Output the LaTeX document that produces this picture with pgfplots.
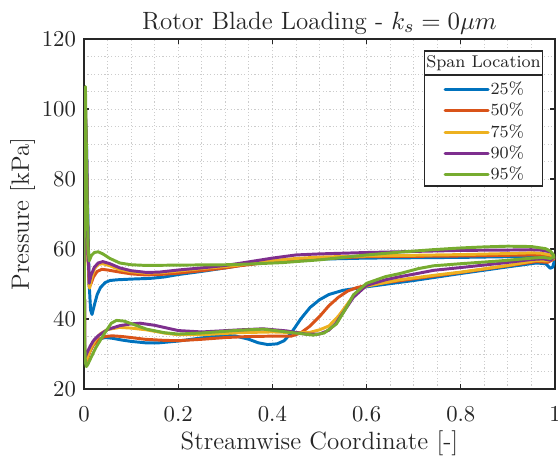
\documentclass[border=0pt]{standalone}
\usepackage{pgfplots}
\pgfplotsset{compat=1.18}
\definecolor{mB}{rgb}{0,0.447,0.741}
\definecolor{mO}{rgb}{0.850,0.325,0.098}
\definecolor{mY}{rgb}{0.929,0.694,0.125}
\definecolor{mP}{rgb}{0.494,0.184,0.556}
\definecolor{mG}{rgb}{0.466,0.674,0.188}
\definecolor{axgray}{gray}{0.15}
\begin{document}
\begin{tikzpicture}
\begin{axis}[
  name=ax,
  scale only axis,
  width=207.24pt, height=154pt,
  xmin=0, xmax=1, ymin=20, ymax=120,
  xtick={0,0.2,0.4,0.6,0.8,1},
  xticklabels={0,0.2,0.4,0.6,0.8,1},
  ytick={20,40,60,80,100,120},
  minor x tick num=3, minor y tick num=3,
  grid=both,
  major grid style={black!20, line width=0.4pt, dash pattern=on 0.5pt off 1pt},
  minor grid style={black!20, line width=0.4pt, dash pattern=on 0.5pt off 1pt},
  tick align=inside, tick pos=both,
  major tick length=2.2pt, minor tick length=0pt,
  axis line style={axgray, line width=0.5pt},
  every tick/.style={axgray, line width=0.5pt},
  every tick label/.append style={font=\fontsize{10}{12}\selectfont, text=axgray},
  xticklabel style={yshift=-4.2pt},
  title={Rotor Blade Loading - $k_s = 0\mu m$},
  title style={at={(axis description cs:0.5,1)}, anchor=base, yshift=-1.7pt, font=\fontsize{11}{13}\selectfont, text=axgray},
  xlabel={Streamwise Coordinate [-]},
  xlabel style={at={(axis description cs:0.5,0)}, anchor=base, yshift=-26.6pt, font=\fontsize{11}{13}\selectfont, text=axgray},
  ylabel={Pressure [kPa]},
  ylabel style={at={(axis description cs:0,0.5)}, anchor=base, yshift=24.3pt, font=\fontsize{11}{13}\selectfont, text=axgray},
  every axis plot/.append style={line width=1.3pt, line join=round, line cap=round},
  legend style={at={(axis description cs:0.7626,0.8817)}, anchor=north west, draw=none, fill=none,
    inner sep=0pt, row sep=1.55pt, column sep=0pt,
    font=\fontsize{7.5}{8.5}\selectfont, text=axgray,
    nodes={inner sep=0.5pt, text height=5.6pt, text depth=1.2pt}},
  legend cell align=left,
  legend image code/.code={\draw[#1] (0pt,0pt) -- (18.9pt,0pt);},
]
% 25%
\addplot[mB] coordinates {
(1.000,57.2) (0.99,57.5) (0.97,57.7) (0.95,57.8) (0.90,57.8) (0.80,57.6) (0.70,57.5) (0.60,57.4) (0.50,57.1) (0.45,56.8) (0.40,56.3) (0.35,55.7) (0.30,54.6) (0.25,53.6) (0.20,52.7) (0.17,52.0) (0.14,51.6) (0.10,51.4) (0.07,51.2) (0.055,51.0) (0.045,50.4) (0.035,49.0) (0.028,47.0) (0.022,44.0) (0.017,41.3) (0.014,42.5) (0.011,50) (0.008,70) (0.005,92) (0.003,98) (0.0015,80) (0.001,50) (0.0015,30)
(0.003,29.0) (0.006,29.6) (0.01,30.8) (0.015,32.0) (0.02,33.0) (0.03,34.2) (0.045,34.7) (0.06,34.5) (0.08,34.0) (0.10,33.6) (0.13,33.2) (0.16,33.2) (0.20,33.7) (0.25,34.6) (0.29,35.3) (0.32,35.2) (0.35,34.2) (0.37,33.2) (0.39,32.7) (0.41,32.9) (0.425,33.8) (0.44,36.0) (0.46,40.0) (0.48,43.3) (0.50,45.5) (0.52,47.0) (0.55,48.2) (0.58,48.8) (0.60,49.2) (0.70,51.0) (0.80,53.0) (0.90,54.9) (0.96,56.0) (0.98,55.8) (0.99,54.5) (0.995,54.8) (1.000,57.2)
};
\addlegendentry{25\%}
% 50%
\addplot[mO] coordinates {
(1.0,57.3) (0.99,57.9) (0.97,58.2) (0.95,58.3) (0.90,58.2) (0.80,58.0) (0.70,57.9) (0.60,57.8) (0.50,57.3) (0.45,56.9) (0.40,56.3) (0.33,55.2) (0.30,54.6) (0.25,53.8) (0.20,53.1) (0.16,52.7) (0.13,52.6) (0.10,52.9) (0.076,53.4) (0.05,54.0) (0.038,54.2) (0.028,53.6) (0.02,52.0) (0.014,49.8) (0.011,49.2) (0.008,62) (0.005,88) (0.003,97) (0.0015,80) (0.001,50) (0.0015,29)
(0.003,27.8) (0.006,28.2) (0.009,29.2) (0.013,30.8) (0.02,32.6) (0.03,34.0) (0.044,35.0) (0.06,35.2) (0.08,35.0) (0.10,34.7) (0.13,34.2) (0.17,33.9) (0.20,33.8) (0.25,34.2) (0.30,34.7) (0.35,35.0) (0.40,35.1) (0.44,35.1) (0.46,36.0) (0.48,38.0) (0.50,40.7) (0.52,43.8) (0.54,46.2) (0.56,48.0) (0.58,49.0) (0.60,49.6) (0.70,51.5) (0.80,53.3) (0.90,55.2) (0.96,56.4) (0.985,56.2) (1.0,57.3)
};
\addlegendentry{50\%}
% 75%
\addplot[mY] coordinates {
(1.0,57.5) (0.99,58.3) (0.97,58.8) (0.95,58.9) (0.90,58.7) (0.80,58.4) (0.70,58.2) (0.60,58.0) (0.50,57.7) (0.45,57.3) (0.40,56.7) (0.33,55.4) (0.30,55.0) (0.25,54.4) (0.20,53.7) (0.16,53.2) (0.13,53.1) (0.10,53.5) (0.076,54.1) (0.055,55.2) (0.04,55.8) (0.03,55.6) (0.022,54.3) (0.016,51.5) (0.012,48.8) (0.009,55) (0.006,80) (0.003,99) (0.0015,80) (0.001,50) (0.0015,29)
(0.003,28.0) (0.006,28.6) (0.01,30.0) (0.015,31.8) (0.025,34.2) (0.035,35.8) (0.05,37.0) (0.076,37.6) (0.10,37.4) (0.133,36.9) (0.17,36.0) (0.20,35.5) (0.25,35.5) (0.33,36.1) (0.40,36.3) (0.45,36.1) (0.48,36.2) (0.50,36.9) (0.52,38.0) (0.54,40.8) (0.555,43.5) (0.57,46.2) (0.586,48.4) (0.60,49.4) (0.67,51.2) (0.75,52.6) (0.80,53.4) (0.90,55.3) (0.96,56.7) (0.985,56.6) (1.0,57.5)
};
\addlegendentry{75\%}
% 90%
\addplot[mP] coordinates {
(1.0,57.8) (0.99,59.2) (0.97,59.7) (0.95,59.8) (0.90,59.7) (0.80,59.6) (0.70,59.3) (0.60,59.0) (0.50,58.6) (0.45,58.3) (0.40,57.4) (0.33,55.9) (0.30,55.3) (0.25,54.6) (0.20,54.0) (0.16,53.4) (0.133,53.3) (0.10,53.8) (0.076,54.6) (0.055,55.8) (0.04,56.4) (0.03,56.0) (0.022,54.8) (0.015,52.5) (0.011,50.2) (0.009,58) (0.006,85) (0.003,101) (0.0015,80) (0.001,50) (0.0015,30)
(0.003,29.2) (0.006,30.2) (0.009,31.1) (0.013,32.2) (0.02,33.8) (0.03,35.2) (0.05,37.0) (0.076,38.1) (0.10,38.6) (0.119,38.8) (0.15,38.2) (0.20,36.7) (0.25,36.3) (0.33,36.9) (0.38,37.2) (0.43,36.6) (0.47,35.7) (0.50,35.7) (0.52,36.8) (0.535,38.8) (0.55,41.8) (0.572,46.2) (0.60,49.6) (0.64,51.2) (0.671,52.1) (0.70,52.8) (0.742,53.9) (0.80,54.7) (0.883,55.9) (0.95,57.0) (0.975,57.2) (0.99,56.8) (1.0,57.8)
};
\addlegendentry{90\%}
% 95%
\addplot[mG] coordinates {
(1.0,57.8) (0.99,59.4) (0.98,60.1) (0.95,60.7) (0.90,60.8) (0.85,60.6) (0.80,60.3) (0.74,59.8) (0.67,59.1) (0.60,58.3) (0.55,57.6) (0.50,56.9) (0.42,56.1) (0.35,55.7) (0.30,55.5) (0.20,55.4) (0.133,55.3) (0.10,55.5) (0.076,56.0) (0.055,57.3) (0.04,58.6) (0.03,59.2) (0.022,59.0) (0.016,58.2) (0.011,56.6) (0.0085,60.6) (0.006,80) (0.003,106.4) (0.0012,90) (0.0005,60) (0.001,35)
(0.003,27.5) (0.005,26.4) (0.008,27.0) (0.015,29.0) (0.025,31.8) (0.034,33.8) (0.045,36.2) (0.058,38.8) (0.069,39.6) (0.085,39.4) (0.10,38.7) (0.133,37.1) (0.17,36.1) (0.20,35.7) (0.25,36.0) (0.331,36.8) (0.38,37.1) (0.43,36.3) (0.487,35.4) (0.51,36.0) (0.536,38.6) (0.555,42.8) (0.572,46.9) (0.60,50.2) (0.64,52.1) (0.671,53.0) (0.71,54.4) (0.742,55.2) (0.80,55.8) (0.883,56.6) (0.953,57.4) (0.975,57.6) (0.99,57.3) (1.0,57.8)
};
\addlegendentry{95\%}
% legend frame and title
\draw[axgray, line width=0.5pt, fill=white] (rel axis cs:0.7225,0.9657) rectangle (rel axis cs:0.9739,0.58);
\draw[axgray, line width=0.5pt] (rel axis cs:0.7225,0.8971) -- (rel axis cs:0.9739,0.8971);
\node[anchor=base, font=\fontsize{7.5}{8.5}\selectfont, text=axgray, inner sep=0pt] at (rel axis cs:0.8482,0.9191) {Span Location};
\end{axis}
\pgfresetboundingbox
\path ([xshift=-36.96pt,yshift=-29.48pt]ax.south west) rectangle ([xshift=1.32pt,yshift=17.16pt]ax.north east);
\end{tikzpicture}
\end{document}
